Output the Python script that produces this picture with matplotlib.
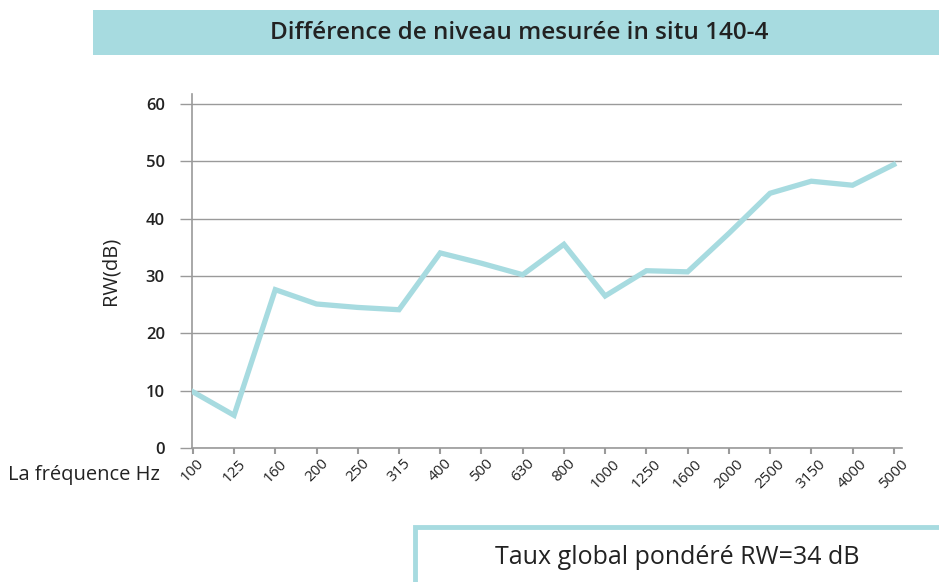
import matplotlib.pyplot as plt
from matplotlib.patches import Rectangle

freqs = ["100", "125", "160", "200", "250", "315", "400", "500", "630", "800",
         "1000", "1250", "1600", "2000", "2500", "3150", "4000", "5000"]
rw_db = [9.8, 5.7, 27.6, 25.1, 24.5, 24.1, 34.0, 32.2, 30.2, 35.5,
         26.5, 30.9, 30.7, 37.4, 44.4, 46.5, 45.8, 49.4]
y_ticks = [0, 10, 20, 30, 40, 50, 60]

TEAL = "#a7dbe0"
GRID = "#9a9a9a"
TEXT = "#222222"

plt.rcParams["font.family"] = ["Open Sans", "DejaVu Sans"]

W, H = 939, 582
fig = plt.figure(figsize=(W / 100, H / 100), dpi=100)

# axes placed in pixel coords of the reference
x0, x1, y_top, y_bot = 192, 902, 94, 448
ax = fig.add_axes([x0 / W, 1 - y_bot / H, (x1 - x0) / W, (y_bot - y_top) / H])

xs = list(range(len(freqs)))
ax.plot(xs, rw_db, color=TEAL, lw=3.8, solid_joinstyle="miter", zorder=3)

ax.set_xlim(-0.02, 17.2)
ax.set_ylim(0, 61.7)
ax.set_xticks(xs)
ax.set_xticklabels(freqs, rotation=45, ha="center", va="top", fontsize=11, color=TEXT)
ax.set_yticks(y_ticks)
ax.set_yticklabels([str(v) for v in y_ticks], fontsize=12, fontweight="semibold", color=TEXT)

ax.yaxis.grid(True, color=GRID, lw=1)
ax.set_axisbelow(True)
for s in ["top", "right"]:
    ax.spines[s].set_visible(False)
for s in ["left", "bottom"]:
    ax.spines[s].set_color(GRID)
    ax.spines[s].set_linewidth(1.2)
ax.tick_params(axis="y", length=8.6, width=1, color=GRID, pad=11)
ax.tick_params(axis="x", length=4, width=1.5, color=GRID, pad=2)
ax.set_ylabel("RW(dB)", fontsize=14.5, color=TEXT, labelpad=18)

fig.text(160 / W, 1 - 475 / H, "La fréquence Hz", ha="right", va="center",
         fontsize=14.5, color=TEXT)

# title band
fig.patches.append(Rectangle((93 / W, 1 - 55 / H), (W - 93) / W, 45 / H,
                             transform=fig.transFigure, facecolor=TEAL,
                             edgecolor="none", zorder=0))
fig.text(519 / W, 1 - 33 / H, "Différence de niveau mesurée in situ 140-4",
         ha="center", va="center", fontsize=17.5, fontweight="semibold", color=TEXT)

# result box at bottom
fig.patches.append(Rectangle((415 / W, -10 / H), (W - 413) / W, (H - 527 + 10) / H,
                             transform=fig.transFigure, facecolor="white",
                             edgecolor=TEAL, lw=3.5, zorder=0))
fig.text(677 / W, 1 - 557 / H, "Taux global pondéré RW=34 dB",
         ha="center", va="center", fontsize=18, color=TEXT)

fig.savefig("out.png", dpi=100)
